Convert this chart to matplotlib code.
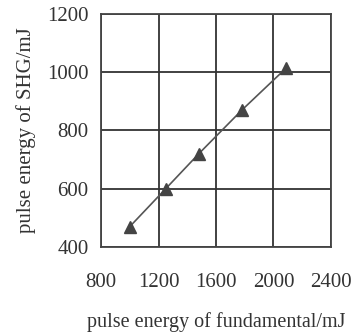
import matplotlib.pyplot as plt

plt.rcParams['font.family'] = ['Liberation Serif', 'DejaVu Serif']

fund_energy = [1000, 1250, 1480, 1780, 2090]   # x, mJ
shg_energy = [470, 600, 720, 870, 1015]        # y, mJ
x_ticks = [800, 1200, 1600, 2000, 2400]
y_ticks = [400, 600, 800, 1000, 1200]

fig = plt.figure(figsize=(3.6, 3.35), dpi=100)
ax = fig.add_axes([0.281, 0.263, 0.638, 0.695])

ax.plot(fund_energy, shg_energy, color='#555555', linewidth=1.2,
        marker='^', markersize=8, markerfacecolor='#444444', markeredgecolor='#444444')

ax.set_xlim(800, 2400)
ax.set_ylim(400, 1200)
ax.set_xticks(x_ticks)
ax.set_yticks(y_ticks)
ax.grid(True, color='#333333', linewidth=1.3)
ax.set_axisbelow(True)
ax.tick_params(length=0, labelsize=15, colors='#333333')
ax.tick_params(axis='x', pad=19)
ax.tick_params(axis='y', pad=9)
for s in ax.spines.values():
    s.set_color('#444444')
    s.set_linewidth(1.3)

ax.set_xlabel('pulse energy of fundamental/mJ', fontsize=14.5, color='#333333', labelpad=14.5)
ax.set_ylabel('pulse energy of SHG/mJ', fontsize=15, color='#333333', labelpad=8)

fig.savefig('out.png', dpi=100)
